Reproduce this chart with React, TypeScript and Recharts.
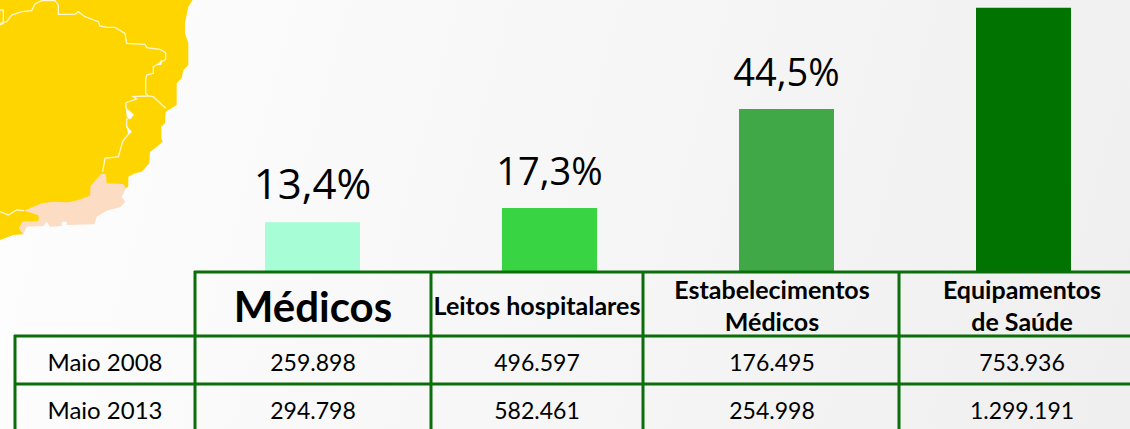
import { BarChart, Bar, Cell, LabelList, XAxis, YAxis } from "recharts";

// percentage growth between May 2008 and May 2013
const categories = ["Médicos", "Leitos hospitalares", "Estabelecimentos Médicos", "Equipamentos de Saúde"];
const growth = [13.4, 17.3, 44.5, 72.3];
// the last label falls above the top of the picture, so it is not shown
const growthLabels = ["13,4%", "17,3%", "44,5%", ""];

const rowNames = ["Maio 2008", "Maio 2013"];
const maio2008 = ["259.898", "496.597", "176.495", "753.936"];
const maio2013 = ["294.798", "582.461", "254.998", "1.299.191"];

const barColors = ["#A6FDD6", "#39D443", "#41A848", "#007300"];
const labelSizes = [42, 38, 38, 38];

const chartData = categories.map((name, i) => ({ name, growth: growth[i], label: growthLabels[i] }));

const LINE = "#0B6E0B";
const FONT = "Lato, sans-serif";

// map outlines, traced in 3x coordinates
const yellowShape =
  "0,0 578,0 565,20 555,70 555,100 565,130 565,195 550,210 545,235 530,250 530,315 497,335 495,370 484,380 484,415 488,425 465,445 450,455 448,490 425,515 405,520 385,530 385,560 300,610 100,640 118,645 115,665 68,665 58,685 70,703 40,705 0,720";
const peachShape =
  "320,550 318,522 303,522 272,558 270,587 235,600 205,607 160,605 125,610 72,632 115,645 118,665 68,665 58,685 70,703 80,680 130,678 140,665 150,680 185,678 185,665 200,665 200,675 283,673 290,650 320,632 360,622 376,605 365,590 378,565 370,552";
const stateLines = [
  "0,70 20,65 35,45 65,35 95,32 105,12 125,2 165,2 175,15 175,43 225,43 235,35 255,50 295,65 300,78 320,82 345,82 375,100 380,130 435,133 440,143 480,148 497,158 497,178 470,195 460,200 460,220 440,225 437,240 437,280 445,288 460,290 497,325",
  "445,288 400,290 410,297 378,308 378,325 400,345 380,358 380,380 393,395 383,405 368,425 355,470 315,475 308,515",
  "0,30 10,30 10,70 0,75",
  "0,635 25,645 50,630 72,632",
];

function GrowthLabel(props: any) {
  const { x, y, width, value, index } = props;
  if (!value) return null;
  return (
    <text x={x + width / 2} y={y - 23} textAnchor="middle" fontFamily="'Open Sans', sans-serif" fontSize={labelSizes[index]} fill="#000">
      {value}
    </text>
  );
}

function MapLayer() {
  return (
    <svg width={200} height={250} style={{ position: "absolute", left: 0, top: 0 }}>
      <g transform="scale(0.3333)">
        <polygon points={yellowShape} fill="#FFD500" />
        <polygon points={peachShape} fill="#FDDCC4" />
        {stateLines.map((pts) => (
          <polyline key={pts} points={pts} fill="none" stroke="#FFF6D0" strokeWidth={4} />
        ))}
        <polygon points="378,328 400,345 392,358 380,350" fill="#fff" />
        <polygon points="378,375 393,395 385,402" fill="#fff" />
        <polygon points="470,195 486,178 484,195" fill="#fff" />
      </g>
    </svg>
  );
}

function TableLayer() {
  const cols = [105, 313, 537, 772, 1022];
  const cellText = { fontFamily: FONT, fontSize: 23, fill: "#000", textAnchor: "middle" } as const;
  const headText = { fontFamily: FONT, fontWeight: 700, fontSize: 25, fill: "#000", textAnchor: "middle" } as const;
  return (
    <svg width={1130} height={429} style={{ position: "absolute", left: 0, top: 0 }}>
      <g stroke={LINE} strokeWidth={3}>
        <line x1={194} y1={272} x2={1130} y2={272} />
        <line x1={14} y1={336} x2={1130} y2={336} />
        <line x1={14} y1={384} x2={1130} y2={384} />
        <line x1={15} y1={335} x2={15} y2={429} />
        <line x1={195} y1={271} x2={195} y2={429} />
        <line x1={431} y1={271} x2={431} y2={429} />
        <line x1={643} y1={271} x2={643} y2={429} />
        <line x1={899} y1={271} x2={899} y2={429} />
      </g>
      <text x={cols[1]} y={322} {...headText} fontSize={42}>{categories[0]}</text>
      <text x={cols[2]} y={315} {...headText}>{categories[1]}</text>
      <text x={cols[3]} y={299} {...headText}>Estabelecimentos</text>
      <text x={cols[3]} y={331} {...headText}>Médicos</text>
      <text x={cols[4]} y={299} {...headText}>Equipamentos</text>
      <text x={cols[4]} y={331} {...headText}>de Saúde</text>
      <text x={cols[0]} y={371} {...cellText} fontSize={24}>{rowNames[0]}</text>
      <text x={cols[0]} y={419} {...cellText} fontSize={24}>{rowNames[1]}</text>
      {maio2008.map((v, i) => (
        <text key={v} x={cols[i + 1]} y={371} {...cellText}>{v}</text>
      ))}
      {maio2013.map((v, i) => (
        <text key={v} x={cols[i + 1]} y={419} {...cellText}>{v}</text>
      ))}
    </svg>
  );
}

export default function App() {
  return (
    <div
      style={{
        position: "absolute",
        left: 0,
        top: 0,
        width: 1130,
        height: 429,
        overflow: "hidden",
        background: "linear-gradient(105deg, #fefefe 0%, #fafafa 25%, #f5f5f5 60%, #efefef 100%)",
      }}
    >
      <MapLayer />
      <BarChart
        width={1142}
        height={271}
        data={chartData}
        margin={{ top: 0, right: 0, bottom: 0, left: 194 }}
        barSize={95}
      >
        <XAxis dataKey="name" hide />
        <YAxis hide domain={[0, 74.45]} />
        <Bar dataKey="growth" isAnimationActive={false}>
          {chartData.map((d, i) => (
            <Cell key={d.name} fill={barColors[i]} />
          ))}
          <LabelList dataKey="label" content={<GrowthLabel />} />
        </Bar>
      </BarChart>
      <TableLayer />
    </div>
  );
}
